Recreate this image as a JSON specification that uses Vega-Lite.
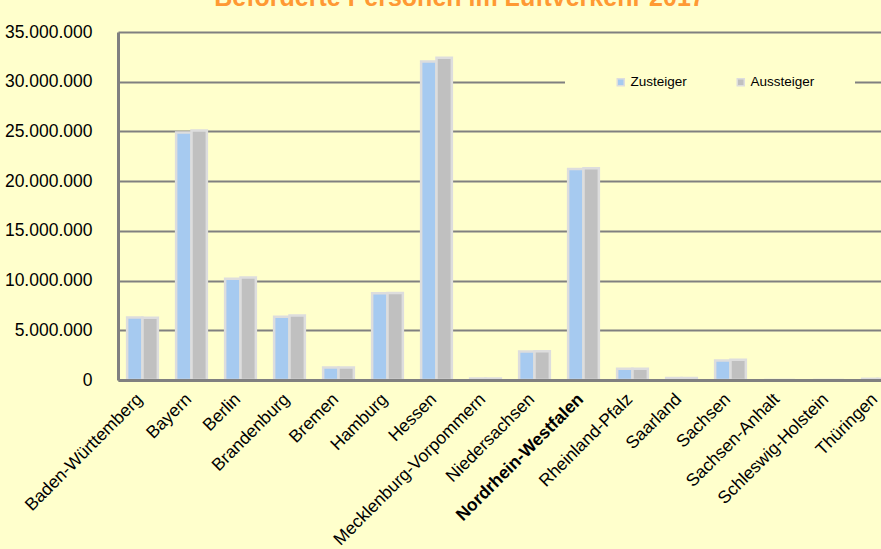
{
  "$schema": "https://vega.github.io/schema/vega-lite/v6.json",
  "autosize": "none",
  "width": 763,
  "height": 348,
  "padding": {"left": 118, "top": 32, "right": 0, "bottom": 169},
  "background": "#FFFFCC",
  "title": {
    "text": "Beförderte Personen im Luftverkehr 2017",
    "color": "#FF9933",
    "font": "Liberation Sans",
    "fontSize": 25,
    "fontWeight": "bold",
    "anchor": "middle",
    "frame": "group",
    "baseline": "alphabetic",
    "offset": 0,
    "dx": -40,
    "dy": 8
  },
  "config": {
    "locale": {"number": {"decimal": ",", "thousands": ".", "grouping": [3], "currency": ["", " €"]}},
    "view": {"stroke": null},
    "font": "Liberation Sans"
  },
  "data": {
    "values": [
      {"land": "Baden-Württemberg", "art": "Zusteiger", "wert": 6290000},
      {"land": "Baden-Württemberg", "art": "Aussteiger", "wert": 6260000},
      {"land": "Bayern", "art": "Zusteiger", "wert": 24900000},
      {"land": "Bayern", "art": "Aussteiger", "wert": 25100000},
      {"land": "Berlin", "art": "Zusteiger", "wert": 10180000},
      {"land": "Berlin", "art": "Aussteiger", "wert": 10300000},
      {"land": "Brandenburg", "art": "Zusteiger", "wert": 6360000},
      {"land": "Brandenburg", "art": "Aussteiger", "wert": 6480000},
      {"land": "Bremen", "art": "Zusteiger", "wert": 1260000},
      {"land": "Bremen", "art": "Aussteiger", "wert": 1260000},
      {"land": "Hamburg", "art": "Zusteiger", "wert": 8720000},
      {"land": "Hamburg", "art": "Aussteiger", "wert": 8740000},
      {"land": "Hessen", "art": "Zusteiger", "wert": 32030000},
      {"land": "Hessen", "art": "Aussteiger", "wert": 32400000},
      {"land": "Mecklenburg-Vorpommern", "art": "Zusteiger", "wert": 150000},
      {"land": "Mecklenburg-Vorpommern", "art": "Aussteiger", "wert": 150000},
      {"land": "Niedersachsen", "art": "Zusteiger", "wert": 2860000},
      {"land": "Niedersachsen", "art": "Aussteiger", "wert": 2880000},
      {"land": "Nordrhein-Westfalen", "art": "Zusteiger", "wert": 21220000},
      {"land": "Nordrhein-Westfalen", "art": "Aussteiger", "wert": 21300000},
      {"land": "Rheinland-Pfalz", "art": "Zusteiger", "wert": 1130000},
      {"land": "Rheinland-Pfalz", "art": "Aussteiger", "wert": 1140000},
      {"land": "Saarland", "art": "Zusteiger", "wert": 200000},
      {"land": "Saarland", "art": "Aussteiger", "wert": 200000},
      {"land": "Sachsen", "art": "Zusteiger", "wert": 1960000},
      {"land": "Sachsen", "art": "Aussteiger", "wert": 2030000},
      {"land": "Sachsen-Anhalt", "art": "Zusteiger", "wert": 0},
      {"land": "Sachsen-Anhalt", "art": "Aussteiger", "wert": 0},
      {"land": "Schleswig-Holstein", "art": "Zusteiger", "wert": 0},
      {"land": "Schleswig-Holstein", "art": "Aussteiger", "wert": 0},
      {"land": "Thüringen", "art": "Zusteiger", "wert": 120000},
      {"land": "Thüringen", "art": "Aussteiger", "wert": 120000}
    ]
  },
  "mark": {"type": "bar", "stroke": "#DDDDDD", "strokeWidth": 2.5, "clip": true},
  "encoding": {
    "x": {
      "field": "land",
      "type": "nominal",
      "sort": null,
      "scale": {"range": [0, 784], "paddingInner": 0.373, "paddingOuter": 0.1865},
      "axis": {
        "title": null,
        "labelAngle": -45,
        "labelFontSize": 17.5,
        "labelColor": "#000000",
        "labelPadding": 10,
        "labelOffset": -9,
        "labelFontWeight": {"condition": {"test": "datum.value === 'Nordrhein-Westfalen'", "value": "bold"}, "value": "normal"},
        "ticks": false,
        "domainColor": "#808080",
        "domainWidth": 3,
        "zindex": 1,
        "labelOverlap": false,
        "labelLimit": 400
      }
    },
    "xOffset": {
      "field": "art",
      "type": "nominal",
      "sort": ["Zusteiger", "Aussteiger"],
      "scale": {"paddingInner": 0, "paddingOuter": 0}
    },
    "y": {
      "field": "wert",
      "type": "quantitative",
      "scale": {"domain": [0, 35000000], "nice": false},
      "axis": {
        "title": null,
        "values": [0, 5000000, 10000000, 15000000, 20000000, 25000000, 30000000, 35000000],
        "format": ",d",
        "labelFontSize": 17.5,
        "labelColor": "#000000",
        "labelPadding": 26,
        "ticks": false,
        "domainColor": "#808080",
        "domainWidth": 3,
        "gridColor": "#808080",
        "gridWidth": 2,
        "gridOpacity": 1
      }
    },
    "color": {
      "field": "art",
      "type": "nominal",
      "scale": {"domain": ["Zusteiger", "Aussteiger"], "range": ["#A6CAF0", "#C0C0C0"]},
      "legend": {
        "orient": "none",
        "direction": "horizontal",
        "legendX": 447,
        "legendY": 3,
        "padding": 40,
        "fillColor": "#FFFFCC",
        "title": "\u00a0",
        "titleOrient": "left",
        "titleFontSize": 13,
        "titlePadding": 9,
        "symbolType": "square",
        "symbolSize": 49,
        "symbolStrokeColor": "#DDDDDD",
        "symbolStrokeWidth": 1.5,
        "symbolOpacity": 1,
        "labelFontSize": 13.5,
        "labelColor": "#000000",
        "labelOffset": 3,
        "columnPadding": 47,
        "labelExpr": "datum.label == 'Aussteiger' ? datum.label + '\u00a0\u00a0\u00a0' : datum.label"
      }
    }
  }
}
